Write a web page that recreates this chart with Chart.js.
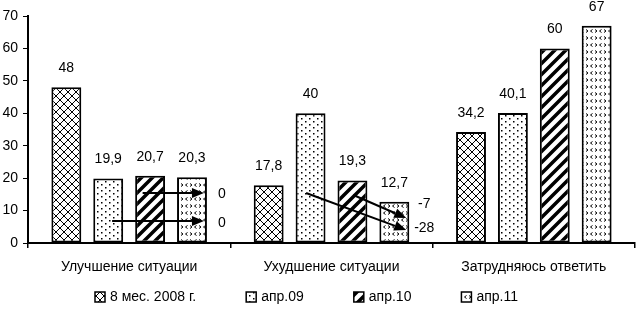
<!DOCTYPE html>
<html>
<head>
<meta charset="utf-8">
<script src="https://cdn.jsdelivr.net/npm/chart.js@4.4.0/dist/chart.umd.min.js"></script>
<style>
    html, body { margin: 0; padding: 0; background: #fff; }
</style>
</head>
<body>
<canvas id="opinionChart" width="636" height="311"></canvas>
<script>
// ========== данные ==========
const categories = ['Улучшение ситуации', 'Ухудшение ситуации', 'Затрудняюсь ответить'];
const seriesNames = ['8 мес. 2008 г.', 'апр.09', 'апр.10', 'апр.11'];
const values2008 = [48, 17.8, 34.2];
const valuesApr09 = [19.9, 40, 40.1];
const valuesApr10 = [20.7, 19.3, 60];
const valuesApr11 = [20.3, 12.7, 67];
const yTicks = [0, 10, 20, 30, 40, 50, 60, 70];

// стрелки изменений: [категория, ряд начала, значение начала], значение конца, подпись
const arrowStart = [[0, 2, 15.4], [0, 1, 6.8], [1, 2, 14.8], [1, 1, 15.4]];
const arrowEndValue = [15.4, 6.8, 7.7, 4.0];
const arrowText = ['0', '0', '-7', '-28'];
const arrowTextValue = [15.1, 6.2, 12.0, 4.6];

const FONT = '"Liberation Sans", Arial, sans-serif';
const FONT_SIZE = 14;

// ========== штриховки ==========
function makePattern(kind) {
    const c = document.createElement('canvas');
    const g = c.getContext('2d');
    if (kind === 'cross') {
        c.width = 8; c.height = 8;
        g.fillStyle = '#fff'; g.fillRect(0, 0, 8, 8);
        g.strokeStyle = '#000'; g.lineWidth = 1;
        g.beginPath();
        g.moveTo(0, 0); g.lineTo(8, 8);
        g.moveTo(8, 0); g.lineTo(0, 8);
        g.stroke();
    } else if (kind === 'dots') {
        c.width = 8; c.height = 6;
        g.fillStyle = '#fff'; g.fillRect(0, 0, 8, 6);
        g.fillStyle = '#000';
        g.fillRect(1, 1, 1.5, 1.5);
        g.fillRect(5, 4, 1.5, 1.5);
    } else if (kind === 'stripes') {
        c.width = 11; c.height = 11;
        g.fillStyle = '#fff'; g.fillRect(0, 0, 11, 11);
        g.strokeStyle = '#000'; g.lineWidth = 3.5;
        g.beginPath();
        g.moveTo(-2, 13); g.lineTo(13, -2);
        g.moveTo(-8, 8); g.lineTo(8, -8);
        g.moveTo(3, 19); g.lineTo(19, 3);
        g.stroke();
    } else {
        c.width = 9; c.height = 7;
        g.fillStyle = '#fff'; g.fillRect(0, 0, 9, 7);
        g.strokeStyle = '#000'; g.lineWidth = 1;
        g.beginPath();
        g.moveTo(1, 1.5); g.lineTo(3, 3); g.lineTo(1, 4.5);
        g.moveTo(7.5, 1.5); g.lineTo(5.5, 3); g.lineTo(7.5, 4.5);
        g.stroke();
    }
    return document.createElement('canvas').getContext('2d').createPattern(c, 'repeat');
}

const patterns = [makePattern('cross'), makePattern('dots'), makePattern('stripes'), makePattern('chev')];
const seriesValues = [values2008, valuesApr09, valuesApr10, valuesApr11];

// ========== подписи значений ==========
const valueLabels = {
    id: 'valueLabels',
    afterDatasetsDraw(chart) {
        const ctx = chart.ctx;
        ctx.save();
        ctx.font = FONT_SIZE + 'px ' + FONT;
        ctx.fillStyle = '#000';
        ctx.textAlign = 'center';
        ctx.textBaseline = 'middle';
        chart.data.datasets.forEach((ds, i) => {
            chart.getDatasetMeta(i).data.forEach((bar, j) => {
                ctx.fillText(String(ds.data[j]).replace('.', ','), bar.x, bar.y - 19);
            });
        });
        ctx.restore();
    }
};

// ========== стрелки ==========
const changeArrows = {
    id: 'changeArrows',
    afterDatasetsDraw(chart) {
        const ctx = chart.ctx;
        const y = chart.scales.y;
        const startShift = [-0.25, 0.13, 0.03, -0.15];
        ctx.save();
        ctx.strokeStyle = '#000';
        ctx.fillStyle = '#000';
        ctx.lineWidth = 2;
        arrowStart.forEach((a, k) => {
            const src = chart.getDatasetMeta(a[1]).data[a[0]];
            const dst = chart.getDatasetMeta(3).data[a[0]];
            const x0 = src.x + startShift[k] * src.width;
            const y0 = y.getPixelForValue(a[2]);
            const x1 = dst.x + dst.width / 2 - 3;
            const y1 = y.getPixelForValue(arrowEndValue[k]);
            const ang = Math.atan2(y1 - y0, x1 - x0);
            const hl = 12, hw = 5;
            const bx = x1 - hl * Math.cos(ang), by = y1 - hl * Math.sin(ang);
            ctx.beginPath();
            ctx.moveTo(x0, y0);
            ctx.lineTo(bx, by);
            ctx.stroke();
            ctx.beginPath();
            ctx.moveTo(x1, y1);
            ctx.lineTo(bx + hw * Math.sin(ang), by - hw * Math.cos(ang));
            ctx.lineTo(bx - hw * Math.sin(ang), by + hw * Math.cos(ang));
            ctx.closePath();
            ctx.fill();

            ctx.font = FONT_SIZE + 'px ' + FONT;
            ctx.textAlign = 'center';
            ctx.textBaseline = 'middle';
            ctx.fillText(arrowText[k], dst.x + dst.width / 2 + 15, y.getPixelForValue(arrowTextValue[k]));
        });
        ctx.restore();
    }
};

// ========== легенда ==========
const bottomLegend = {
    id: 'bottomLegend',
    afterDraw(chart) {
        const ctx = chart.ctx;
        const gap = 50, box = 10;
        ctx.save();
        ctx.font = FONT_SIZE + 'px ' + FONT;
        ctx.textBaseline = 'middle';
        ctx.textAlign = 'left';
        let x = 95;
        const yc = 297;
        chart.data.datasets.forEach((ds) => {
            ctx.fillStyle = ds.backgroundColor;
            ctx.fillRect(x, yc - box / 2, box, box);
            ctx.strokeStyle = '#000';
            ctx.lineWidth = 1.5;
            ctx.strokeRect(x, yc - box / 2, box, box);
            ctx.fillStyle = '#000';
            ctx.fillText(ds.label, x + box + 5, yc);
            x += box + 5 + ctx.measureText(ds.label).width + gap;
        });
        ctx.restore();
    }
};

new Chart(document.getElementById('opinionChart'), {
    type: 'bar',
    data: {
        labels: categories,
        datasets: seriesNames.map((name, i) => ({
            label: name,
            data: seriesValues[i],
            backgroundColor: patterns[i],
            borderColor: '#000',
            borderWidth: 2,
            borderSkipped: false,
            categoryPercentage: 0.828,
            barPercentage: 0.714
        }))
    },
    options: {
        responsive: false,
        animation: false,
        layout: { padding: { top: 16, right: 1, left: 0, bottom: 30 } },
        plugins: {
            legend: { display: false },
            tooltip: { enabled: false }
        },
        scales: {
            x: {
                grid: { drawOnChartArea: false, color: '#000', lineWidth: 1.5, tickLength: 5, offset: true },
                border: { color: '#000', width: 2 },
                ticks: { color: '#000', padding: 11, font: { family: FONT, size: FONT_SIZE } },
                afterFit(scale) { scale.height = 38; }
            },
            y: {
                min: yTicks[0],
                max: yTicks[yTicks.length - 1],
                afterBuildTicks(scale) { scale.ticks = yTicks.map(v => ({ value: v })); },
                grid: { drawOnChartArea: false, color: '#000', lineWidth: 1, tickLength: 5 },
                border: { color: '#000', width: 2 },
                ticks: { color: '#000', padding: 5, font: { family: FONT, size: FONT_SIZE } },
                afterFit(scale) { scale.width = 28; }
            }
        }
    },
    plugins: [valueLabels, changeArrows, bottomLegend]
});
</script>
</body>
</html>
